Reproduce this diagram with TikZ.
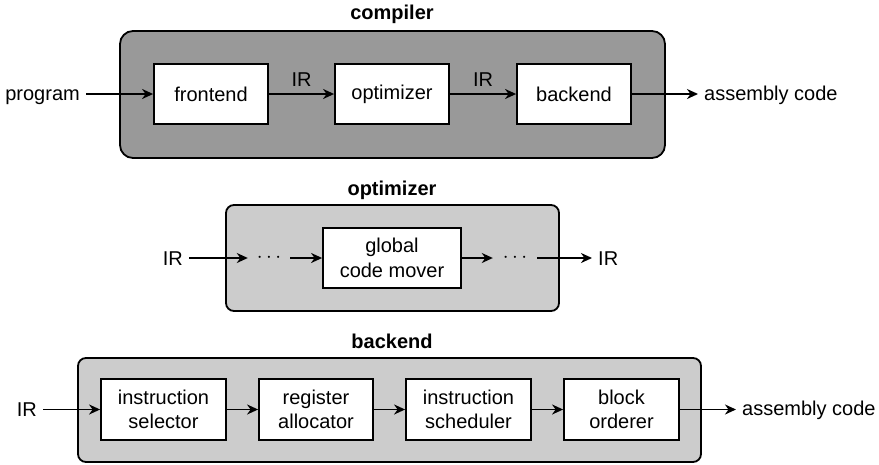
\documentclass[tikz,border=0pt]{standalone}
\usepackage{fontspec}
\setmainfont{Liberation Sans}
\usepackage{tikz}
\usetikzlibrary{arrows.meta}

\begin{document}
\begin{tikzpicture}[x=1pt,y=-1pt,
    font=\fontsize{20}{24.5}\selectfont,
    stage/.style={draw=black, line width=1.8pt, fill=white, align=center,
        inner sep=0pt, minimum height=60pt},
    term/.style={inner xsep=6pt, inner ysep=0pt},
    title/.style={font=\fontsize{20}{24.5}\selectfont\bfseries, anchor=base},
    dots/.style={inner sep=0pt},
    flow/.style={line width=1.8pt, -{Stealth[length=11pt,width=10pt,inset=3.5pt]}},
    group/.style={draw=black, line width=1.8pt}]
    \useasboundingbox (0,0) rectangle (879,464);

    % compiler
    \draw [group, fill=black!40, rounded corners=13pt] (120,31) rectangle (665,158);
    \node [title] (compilerT) at (392,19) {compiler};
    \node [stage, minimum width=114pt] (frontend) at (211,94) {frontend};
    \node [stage, minimum width=114pt] (optimizer) at (392,94) {optimizer};
    \node [stage, minimum width=114pt] (backend) at (574,94) {backend};
    \node [term, anchor=base east] (program) at (86,100) {program};
    \node [term, anchor=base west] (asmA) at (698,100) {assembly code};
    \draw [flow] (program.east |- frontend.west) -- (frontend.west);
    \draw [flow] (frontend) -- node [above, inner sep=7pt] (irA) {IR} (optimizer);
    \draw [flow] (optimizer) -- node [above, inner sep=7pt] (irB) {IR} (backend);
    \draw [flow] (backend.east) -- (asmA.west |- backend.east);

    % optimizer
    \draw [group, fill=black!20, rounded corners=8pt] (226,205) rectangle (559,311);
    \node [title] (optimizerT) at (392,195) {optimizer};
    \node [stage, minimum width=138pt] (mover) at (392,258) {global\\code mover};
    \node [dots, minimum width=42pt] (dotsA) at (269,258) {$\cdots$};
    \node [dots, minimum width=44pt] (dotsB) at (515,258) {$\cdots$};
    \node [term, anchor=base east] (irIn) at (189,265) {IR};
    \node [term, anchor=base west] (irOut) at (592,265) {IR};
    \draw [flow] (irIn.east |- mover.west) -- (dotsA.west);
    \draw [flow] (dotsA.east) -- (mover.west);
    \draw [flow] (mover.east) -- (dotsB.west);
    \draw [flow] (dotsB.east) -- (irOut.west |- mover.east);

    % backend
    \draw [group, fill=black!20, rounded corners=8pt] (78,358) rectangle (701,462);
    \node [title] (backendT) at (392,348) {backend};
    \node [stage, minimum width=125pt, minimum height=61pt] (selector) at (163.5,409.5) {instruction\\selector};
    \node [stage, minimum width=114pt, minimum height=61pt] (allocator) at (316,409.5) {register\\allocator};
    \node [stage, minimum width=125pt, minimum height=61pt] (scheduler) at (468.5,409.5) {instruction\\scheduler};
    \node [stage, minimum width=115pt, minimum height=61pt] (orderer) at (621.5,409.5) {block\\orderer};
    \node [term, anchor=base east] (irC) at (43,416.5) {IR};
    \node [term, anchor=base west] (asmB) at (736,415.5) {assembly code};
    \draw [flow] (irC.east |- selector.west) -- (selector.west);
    \draw [flow] (selector) -- (allocator);
    \draw [flow] (allocator) -- (scheduler);
    \draw [flow] (scheduler) -- (orderer);
    \draw [flow] (orderer.east) -- (asmB.west |- orderer.east);
\end{tikzpicture}
\end{document}
